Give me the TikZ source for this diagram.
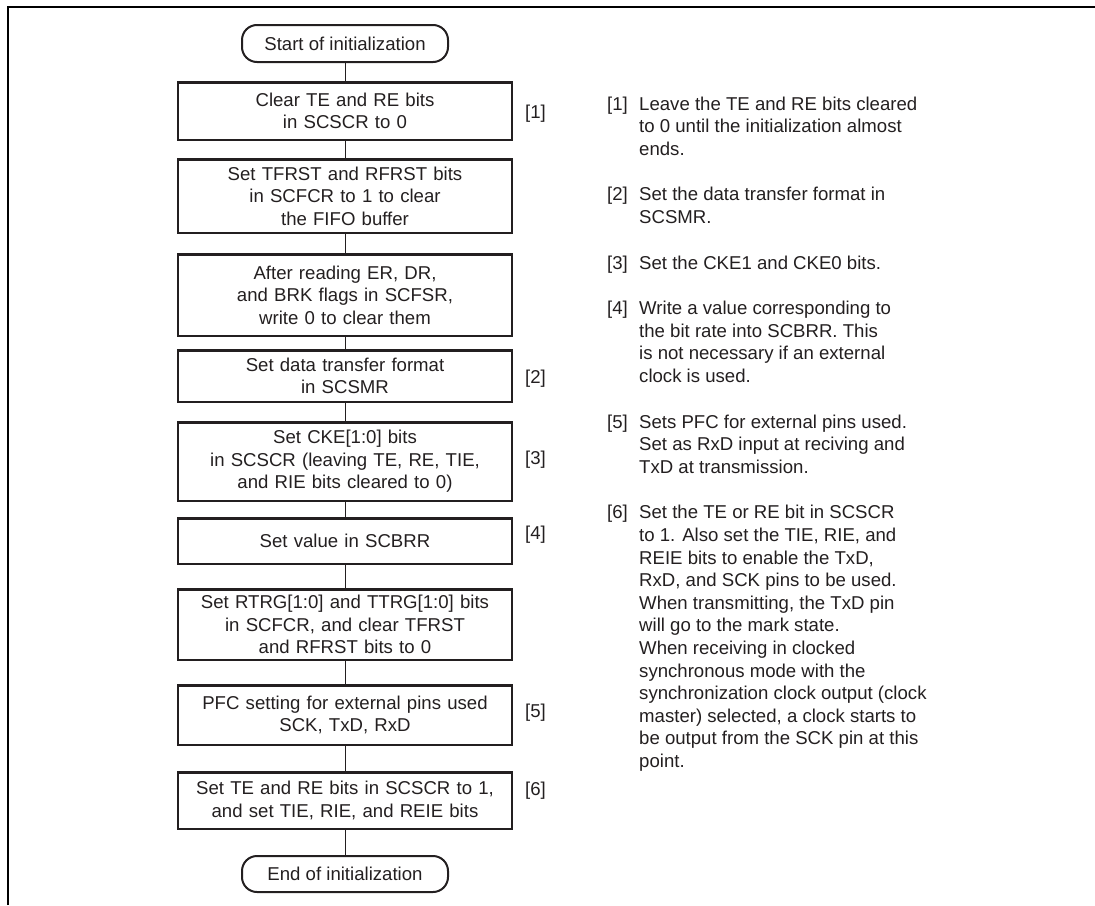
\documentclass[tikz,border=0pt]{standalone}
\usepackage{fontspec}
\setmainfont{Liberation Sans}
\usepackage{tikz}
\usetikzlibrary{positioning}
\definecolor{ink}{HTML}{231F20}

\begin{document}
\begin{tikzpicture}[
    x=1pt, y=-1pt,
    every node/.style={font=\fontsize{18.6pt}{22.6pt}\selectfont, text=ink},
    term/.style={draw=ink, line width=2pt, rounded corners=15pt, minimum width=206pt, minimum height=37pt, inner sep=0pt},
    stepbox/.style={draw=ink, line width=2.5pt, align=center, minimum width=334pt, text width=330pt, inner sep=0pt},
    tag/.style={anchor=west, inner sep=0pt},
    note/.style={anchor=north west, inner sep=0pt},
    link/.style={draw=ink, line width=1pt}
]
    \useasboundingbox (0,0) rectangle (1095,905);
    \draw[line width=2pt] (7.7,905) -- (7.7,6.7) -- (1095,6.7);

    \node[term] (start) at (345,43.5) {Start of initialization};
    \node[stepbox, minimum height=57.5pt, below=18pt of start] (clr) {Clear TE and RE bits\\in SCSCR to 0};
    \node[stepbox, minimum height=73.5pt, below=17pt of clr] (fifo) {Set TFRST and RFRST bits\\in SCFCR to 1 to clear\\the FIFO buffer};
    \node[stepbox, minimum height=81.5pt, below=19pt of fifo] (flags) {After reading ER, DR,\\and BRK flags in SCFSR,\\write 0 to clear them};
    \node[stepbox, minimum height=51.5pt, below=12pt of flags] (smr) {Set data transfer format\\in SCSMR};
    \node[stepbox, minimum height=78.5pt, below=18pt of smr] (cke) {Set CKE[1:0] bits\\in SCSCR (leaving TE, RE, TIE,\\and RIE bits cleared to 0)};
    \node[stepbox, minimum height=45.5pt, below=15pt of cke] (brr) {Set value in SCBRR};
    \node[stepbox, minimum height=70.5pt, below=23pt of brr] (trg) {Set RTRG[1:0] and TTRG[1:0] bits\\in SCFCR, and clear TFRST\\and RFRST bits to 0};
    \node[stepbox, minimum height=59.5pt, below=23pt of trg] (pfc) {PFC setting for external pins used\\SCK, TxD, RxD};
    \node[stepbox, minimum height=56.5pt, below=25pt of pfc] (ena) {Set TE and RE bits in SCSCR to 1,\\and set TIE, RIE, and REIE bits};
    \node[term, minimum height=36pt, below=25pt of ena] (stop) {End of initialization};

    \draw[link] (start) -- (clr);
    \draw[link] (clr) -- (fifo);
    \draw[link] (fifo) -- (flags);
    \draw[link] (flags) -- (smr);
    \draw[link] (smr) -- (cke);
    \draw[link] (cke) -- (brr);
    \draw[link] (brr) -- (trg);
    \draw[link] (trg) -- (pfc);
    \draw[link] (pfc) -- (ena);
    \draw[link] (ena) -- (stop);

    \node[tag] (t1) at (525,114) {[1]};
    \node[tag] (t2) at (525,379) {[2]};
    \node[tag] (t3) at (525,460) {[3]};
    \node[tag] (t4) at (525,535) {[4]};
    \node[tag] (t5) at (525,713) {[5]};
    \node[tag] (t6) at (525,791) {[6]};

    \node[note] (n1) at (607,94) {\begin{tabular}{@{}p{32pt}@{}l@{}}
        [1] & Leave the TE and RE bits cleared\\
            & to 0 until the initialization almost\\
            & ends.
    \end{tabular}};
    \node[below=22.6pt of n1.south west, note] (n2) {\begin{tabular}{@{}p{32pt}@{}l@{}}
        [2] & Set the data transfer format in\\
            & SCSMR.
    \end{tabular}};
    \node[below=22.6pt of n2.south west, note] (n3) {\begin{tabular}{@{}p{32pt}@{}l@{}}
        [3] & Set the CKE1 and CKE0 bits.
    \end{tabular}};
    \node[below=22.6pt of n3.south west, note] (n4) {\begin{tabular}{@{}p{32pt}@{}l@{}}
        [4] & Write a value corresponding to\\
            & the bit rate into SCBRR. This\\
            & is not necessary if an external\\
            & clock is used.
    \end{tabular}};
    \node[below=22.6pt of n4.south west, note] (n5) {\begin{tabular}{@{}p{32pt}@{}l@{}}
        [5] & Sets PFC for external pins used.\\
            & Set as RxD input at reciving and\\
            & TxD at transmission.
    \end{tabular}};
    \node[below=22.6pt of n5.south west, note] (n6) {\begin{tabular}{@{}p{32pt}@{}l@{}}
        [6] & Set the TE or RE bit in SCSCR\\
            & to 1. Also set the TIE, RIE, and\\
            & REIE bits to enable the TxD,\\
            & RxD, and SCK pins to be used.\\
            & When transmitting, the TxD pin\\
            & will go to the mark state.\\
            & When receiving in clocked\\
            & synchronous mode with the\\
            & synchronization clock output (clock\\
            & master) selected, a clock starts to\\
            & be output from the SCK pin at this\\
            & point.
    \end{tabular}};
\end{tikzpicture}
\end{document}
